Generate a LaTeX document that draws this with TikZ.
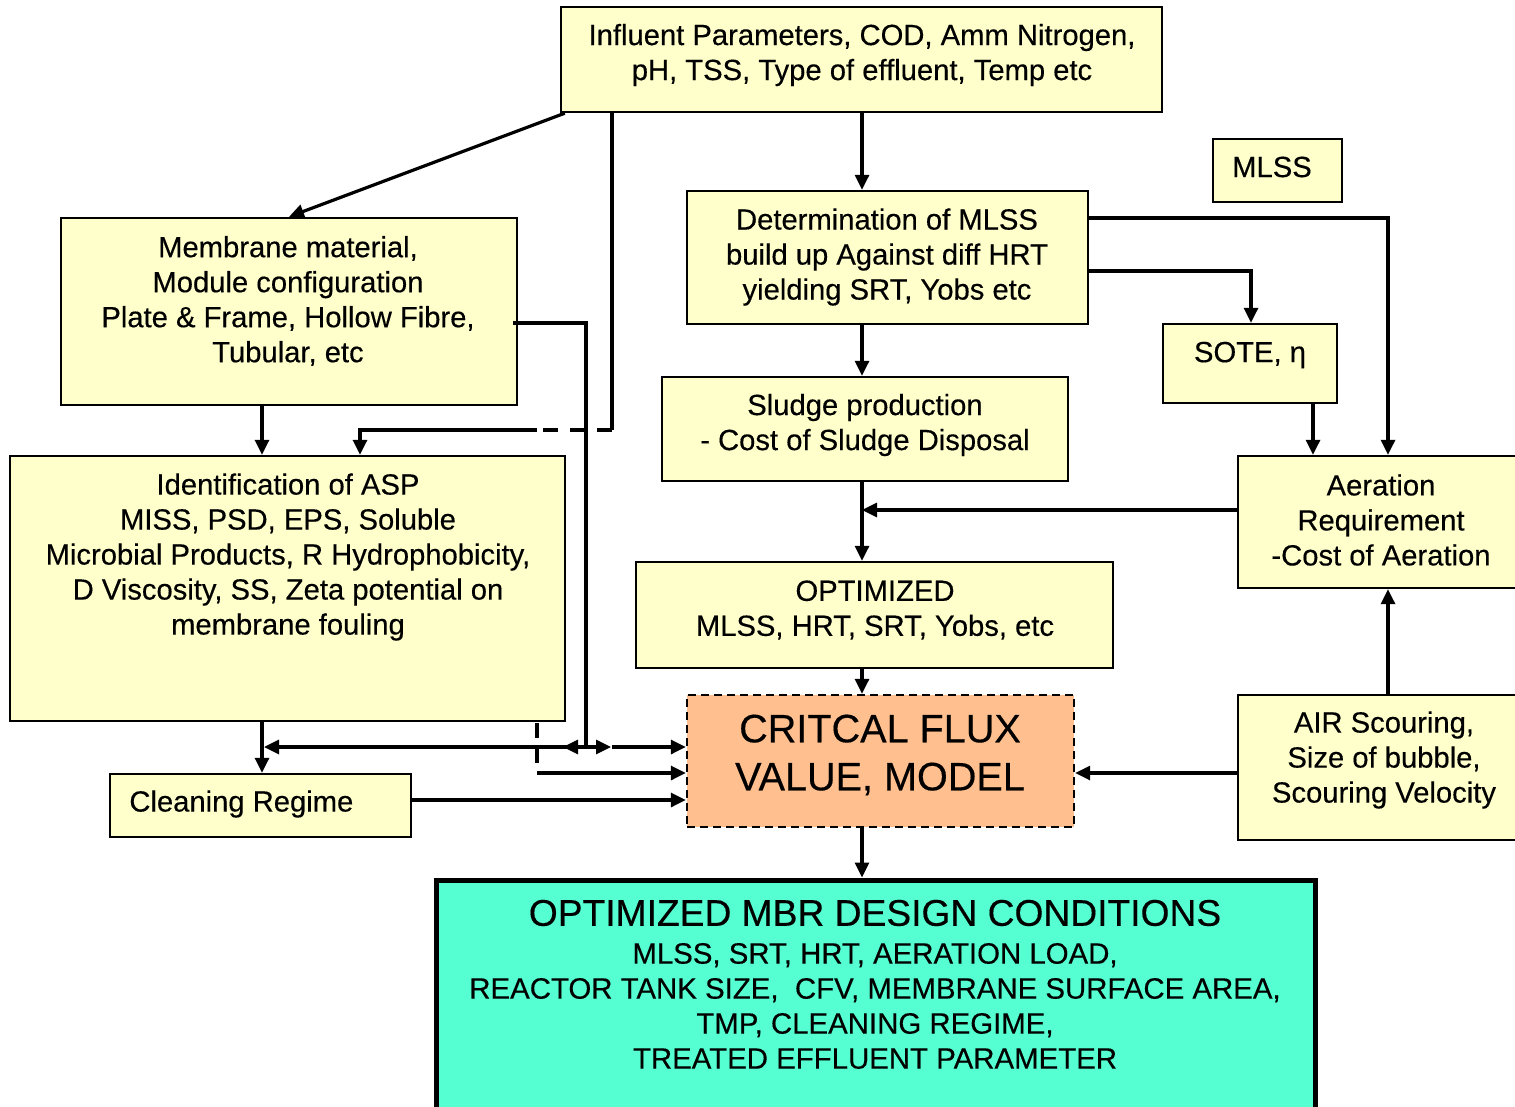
\documentclass[tikz,border=0pt]{standalone}
\usepackage{fontspec}
\setmainfont{Liberation Sans}
\newfontfamily\dkfont[FakeBold=0.35]{Liberation Sans}
\usetikzlibrary{arrows.meta,calc}
\definecolor{byel}{HTML}{FFFFCC}
\definecolor{peach}{HTML}{FFBF8F}
\definecolor{aqua}{HTML}{55FFD2}
\begin{document}
\begin{tikzpicture}[x=0.5pt,y=-0.5pt,
 box/.style={draw, fill=byel, line width=1.2pt, inner sep=0pt},
 txt/.style={inner sep=0pt, align=center, font=\dkfont\fontsize{14.6}{17.5}\selectfont},
 conn/.style={line width=1.6pt},
 arr/.style={conn, -{Triangle[length=7.5pt,width=7pt]}},
 dconn/.style={conn, dash pattern=on 7.5pt off 6pt}]
\clip (0,0) rectangle (1515,1107);
\fill[white] (0,0) rectangle (1515,1107);

% boxes
\node[box, minimum width=300.5pt, minimum height=52.5pt] (infl) at (861.5,59.5) {};
\node[box, minimum width=228pt, minimum height=93.5pt] (mem) at (289,311.5) {};
\node[box, minimum width=277.5pt, minimum height=132.5pt] (ident) at (287.5,588.5) {};
\node[box, minimum width=150.5pt, minimum height=31.5pt] (clean) at (260.5,805.5) {};
\node[box, minimum width=200.5pt, minimum height=66.5pt] (det) at (887.5,257.5) {};
\node[box, minimum width=203pt, minimum height=52pt] (sludge) at (865,429) {};
\node[box, minimum width=238.5pt, minimum height=53pt] (opt) at (874.5,615) {};
\node[box, fill=peach, dash pattern=on 4pt off 2.5pt, minimum width=193.5pt, minimum height=66pt] (CF) at (880.5,761) {};
\node[box, fill=aqua, line width=2.5pt, minimum width=439.5pt, minimum height=120pt] (final) at (875.5,1000) {};
\node[box, minimum width=64.5pt, minimum height=31.5pt] (MLSS) at (1277.5,170.5) {};
\node[box, minimum width=87pt, minimum height=39.5pt] (SOTE) at (1250,363.5) {};
\node[box, minimum width=143.5pt, minimum height=66pt] (aer) at (1381.5,522) {};
\node[box, minimum width=143.5pt, minimum height=72.5pt] (air) at (1381.5,767.5) {};

% texts
\node[txt] (inflT) at (862,55) {Influent Parameters, COD, Amm Nitrogen,\\pH, TSS, Type of effluent, Temp etc};
\node[txt] (memT) at (288,301) {Membrane material,\\Module configuration\\Plate \& Frame, Hollow Fibre,\\Tubular, etc};
\node[txt] (identT) at (288,557) {Identification of ASP\\MISS, PSD, EPS, Soluble\\Microbial Products, R Hydrophobicity,\\D Viscosity, SS, Zeta potential on\\membrane fouling};
\node[txt, anchor=west] (cleanT) at (129,804) {Cleaning Regime};
\node[txt] (detT) at (887,257) {Determination of MLSS\\build up Against diff HRT\\yielding SRT, Yobs etc};
\node[txt] (sludgeT) at (865,425) {Sludge production\\- Cost of Sludge Disposal};
\node[txt] (optT) at (875,610) {OPTIMIZED\\MLSS, HRT, SRT, Yobs, etc};
\node[txt, font=\dkfont\fontsize{19.8}{24}\selectfont] (CFT) at (880,755) {CRITCAL FLUX\\VALUE, MODEL};
\node[txt, font=\dkfont\fontsize{18.6}{20}\selectfont] (finalT) at (875,913) {OPTIMIZED MBR DESIGN CONDITIONS};
\node[txt, font=\dkfont\fontsize{14.7}{17.5}\selectfont] (finalS) at (875,1006) {MLSS, SRT, HRT, AERATION LOAD,\\REACTOR TANK SIZE,\ \ CFV, MEMBRANE SURFACE AREA,\\TMP, CLEANING REGIME,\\TREATED EFFLUENT PARAMETER};
\node[txt] (MLSST) at (1272,167) {MLSS};
\node[txt] (SOTET) at (1250,355) {SOTE, η};
\node[txt] (aerT) at (1381,520) {Aeration\\Requirement\\-Cost of Aeration};
\node[txt] (airT) at (1384,760) {AIR Scouring,\\Size of bubble,\\Scouring Velocity};

% turning points
\coordinate (cx) at (862,0);
\coordinate (v1) at (262,0);
\coordinate (k1) at (612,430);
\coordinate (k2) at (537,430);
\coordinate (k3) at (360,430);
\coordinate (m1) at (586,323);
\coordinate (m2) at (586,747);
\coordinate (d1) at (537,773);
\coordinate (e1) at (0,800);
\coordinate (r1) at (1388,218);
\coordinate (r2) at (1251,271);
\coordinate (r3) at (0,510);
\coordinate (r4) at (1313,0);
\coordinate (r5) at (0,773);

% connectors
\draw[arr] ($(infl.south west)+(5,0)$) -- (mem.north);
\draw[conn] (infl.south -| k1) -- (k1);
\draw[dconn] (k1) -- (k2);
\draw[arr] (k2) -- (k3) -- (k3 |- ident.north);
\draw[arr] (infl.south -| cx) -- (det.north -| cx);
\draw[arr] (mem.south -| v1) -- (ident.north -| v1);
\draw[conn] ($(m1 -| mem.east)+(-5,0)$) -- (m1) -- (m2);
\draw[arr] (m2) -- ($(m2 -| v1)+(2,0)$);
\draw[arr] (m2) -- ++(-23,0);
\draw[arr] (m2) -- ++(25,0);
\draw[arr] ($(m2)+(26,0)$) -- (m2 -| CF.west);
\draw[dconn, dash pattern=on 7.5pt off 5pt] ($(ident.south -| d1)+(0,1)$) -- (d1);
\draw[arr] (d1) -- (d1 -| CF.west);
\draw[arr] (clean.east |- e1) -- (CF.west |- e1);
\draw[arr] (ident.south -| v1) -- (clean.north -| v1);
\draw[arr] (det.east |- r1) -- (r1) -- (aer.north -| r1);
\draw[arr] (det.east |- r2) -- (r2) -- (SOTE.north -| r2);
\draw[arr] (det.south -| cx) -- (sludge.north -| cx);
\draw[arr] (sludge.south -| cx) -- (opt.north -| cx);
\draw[arr] (aer.west |- r3) -- (cx |- r3);
\draw[arr] (SOTE.south -| r4) -- (aer.north -| r4);
\draw[arr] (air.north -| r1) -- (aer.south -| r1);
\draw[arr] (air.west |- r5) -- (CF.east |- r5);
\draw[arr] (opt.south -| cx) -- (CF.north -| cx);
\draw[arr] (CF.south -| cx) -- (final.north -| cx);
\end{tikzpicture}
\end{document}
